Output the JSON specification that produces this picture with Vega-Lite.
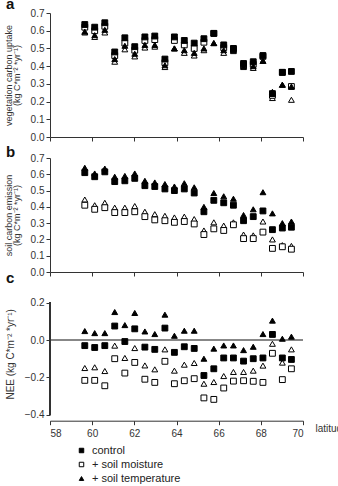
{
  "$schema": "https://vega.github.io/schema/vega-lite/v6.json",
  "padding": {"left": 4, "top": -3, "right": 0, "bottom": 0},
  "config": {
    "font": "Liberation Sans",
    "view": {"stroke": null},
    "axis": {"grid": false, "domainColor": "#333", "tickColor": "#333", "labelColor": "#333", "titleColor": "#333", "labelFontSize": 10, "tickSize": 4, "titleFontWeight": "normal", "titleFontSize": 9, "titleLineHeight": 8, "labelFont": "Liberation Sans", "titleFont": "Liberation Sans"},
    "title": {"font": "Liberation Sans", "fontSize": 15, "fontWeight": "bold", "color": "#111", "anchor": "start", "frame": "group"},
    "legend": {"orient": "none", "legendX": 26, "legendY": 432, "title": null, "labelFontSize": 11, "labelColor": "#222", "symbolSize": 20, "symbolStrokeColor": "black", "symbolStrokeWidth": 1, "rowPadding": 2, "labelOffset": 5}
  },
  "datasets": {
    "a": [
      {"lat":59.65,"s":"+ soil moisture and temperature","v":0.59},{"lat":59.65,"s":"+ soil moisture","v":0.62},{"lat":59.65,"s":"+ soil temperature","v":0.595},{"lat":59.65,"s":"control","v":0.635},
      {"lat":60.12,"s":"+ soil moisture and temperature","v":0.565},{"lat":60.12,"s":"+ soil moisture","v":0.6},{"lat":60.12,"s":"+ soil temperature","v":0.575},{"lat":60.12,"s":"control","v":0.62},
      {"lat":60.6,"s":"+ soil moisture and temperature","v":0.59},{"lat":60.6,"s":"+ soil moisture","v":0.625},{"lat":60.6,"s":"+ soil temperature","v":0.605},{"lat":60.6,"s":"control","v":0.645},
      {"lat":61.07,"s":"+ soil moisture and temperature","v":0.425},{"lat":61.07,"s":"+ soil moisture","v":0.46},{"lat":61.07,"s":"+ soil temperature","v":0.44},{"lat":61.07,"s":"control","v":0.48},
      {"lat":61.55,"s":"+ soil moisture and temperature","v":0.495},{"lat":61.55,"s":"+ soil moisture","v":0.53},{"lat":61.55,"s":"+ soil temperature","v":0.515},{"lat":61.55,"s":"control","v":0.56},
      {"lat":62.02,"s":"+ soil moisture and temperature","v":0.455},{"lat":62.02,"s":"+ soil moisture","v":0.49},{"lat":62.02,"s":"+ soil temperature","v":0.47},{"lat":62.02,"s":"control","v":0.51},
      {"lat":62.5,"s":"+ soil moisture and temperature","v":0.505},{"lat":62.5,"s":"+ soil moisture","v":0.545},{"lat":62.5,"s":"+ soil temperature","v":0.52},{"lat":62.5,"s":"control","v":0.565},
      {"lat":62.97,"s":"+ soil moisture and temperature","v":0.51},{"lat":62.97,"s":"+ soil moisture","v":0.55},{"lat":62.97,"s":"+ soil temperature","v":0.52},{"lat":62.97,"s":"control","v":0.57},
      {"lat":63.45,"s":"+ soil moisture and temperature","v":0.395},{"lat":63.45,"s":"+ soil moisture","v":0.42},{"lat":63.45,"s":"+ soil temperature","v":0.405},{"lat":63.45,"s":"control","v":0.44},
      {"lat":63.9,"s":"+ soil moisture and temperature","v":0.5},{"lat":63.9,"s":"+ soil moisture","v":0.545},{"lat":63.9,"s":"+ soil temperature","v":0.5},{"lat":63.9,"s":"control","v":0.565},
      {"lat":64.37,"s":"+ soil moisture and temperature","v":0.475},{"lat":64.37,"s":"+ soil moisture","v":0.52},{"lat":64.37,"s":"+ soil temperature","v":0.49},{"lat":64.37,"s":"control","v":0.545},
      {"lat":64.84,"s":"+ soil moisture and temperature","v":0.46},{"lat":64.84,"s":"+ soil moisture","v":0.5},{"lat":64.84,"s":"+ soil temperature","v":0.475},{"lat":64.84,"s":"control","v":0.53},
      {"lat":65.3,"s":"+ soil moisture and temperature","v":0.49},{"lat":65.3,"s":"+ soil moisture","v":0.535},{"lat":65.3,"s":"+ soil temperature","v":0.5},{"lat":65.3,"s":"control","v":0.555},
      {"lat":65.77,"s":"+ soil moisture and temperature","v":0.53},{"lat":65.77,"s":"+ soil moisture","v":0.585},{"lat":65.77,"s":"+ soil temperature","v":0.53},{"lat":65.77,"s":"control","v":0.585},
      {"lat":66.24,"s":"+ soil moisture and temperature","v":0.475},{"lat":66.24,"s":"+ soil moisture","v":0.505},{"lat":66.24,"s":"+ soil temperature","v":0.49},{"lat":66.24,"s":"control","v":0.52},
      {"lat":66.7,"s":"+ soil moisture and temperature","v":0.485},{"lat":66.7,"s":"+ soil moisture","v":0.495},{"lat":66.7,"s":"+ soil temperature","v":0.49},{"lat":66.7,"s":"control","v":0.5},
      {"lat":67.18,"s":"+ soil moisture and temperature","v":0.395},{"lat":67.18,"s":"+ soil moisture","v":0.405},{"lat":67.18,"s":"+ soil temperature","v":0.4},{"lat":67.18,"s":"control","v":0.415},
      {"lat":67.64,"s":"+ soil moisture and temperature","v":0.39},{"lat":67.64,"s":"+ soil moisture","v":0.41},{"lat":67.64,"s":"+ soil temperature","v":0.4},{"lat":67.64,"s":"control","v":0.425},
      {"lat":68.1,"s":"+ soil moisture and temperature","v":0.43},{"lat":68.1,"s":"+ soil moisture","v":0.455},{"lat":68.1,"s":"+ soil temperature","v":0.43},{"lat":68.1,"s":"control","v":0.46},
      {"lat":68.55,"s":"+ soil moisture and temperature","v":0.22},{"lat":68.55,"s":"+ soil moisture","v":0.235},{"lat":68.55,"s":"+ soil temperature","v":0.255},{"lat":68.55,"s":"control","v":0.245},
      {"lat":69.02,"s":"+ soil moisture and temperature","v":0.295},{"lat":69.02,"s":"+ soil moisture","v":0.365},{"lat":69.02,"s":"+ soil temperature","v":0.295},{"lat":69.02,"s":"control","v":0.365},
      {"lat":69.45,"s":"+ soil moisture and temperature","v":0.21},{"lat":69.45,"s":"+ soil moisture","v":0.285},{"lat":69.45,"s":"+ soil temperature","v":0.285},{"lat":69.45,"s":"control","v":0.37}
    ],
    "b": [
      {"lat":59.65,"s":"+ soil moisture and temperature","v":0.445},{"lat":59.65,"s":"+ soil moisture","v":0.41},{"lat":59.65,"s":"+ soil temperature","v":0.64},{"lat":59.65,"s":"control","v":0.61},
      {"lat":60.12,"s":"+ soil moisture and temperature","v":0.41},{"lat":60.12,"s":"+ soil moisture","v":0.385},{"lat":60.12,"s":"+ soil temperature","v":0.605},{"lat":60.12,"s":"control","v":0.585},
      {"lat":60.6,"s":"+ soil moisture and temperature","v":0.425},{"lat":60.6,"s":"+ soil moisture","v":0.395},{"lat":60.6,"s":"+ soil temperature","v":0.635},{"lat":60.6,"s":"control","v":0.615},
      {"lat":61.07,"s":"+ soil moisture and temperature","v":0.395},{"lat":61.07,"s":"+ soil moisture","v":0.365},{"lat":61.07,"s":"+ soil temperature","v":0.585},{"lat":61.07,"s":"control","v":0.555},
      {"lat":61.55,"s":"+ soil moisture and temperature","v":0.395},{"lat":61.55,"s":"+ soil moisture","v":0.365},{"lat":61.55,"s":"+ soil temperature","v":0.59},{"lat":61.55,"s":"control","v":0.56},
      {"lat":62.02,"s":"+ soil moisture and temperature","v":0.405},{"lat":62.02,"s":"+ soil moisture","v":0.37},{"lat":62.02,"s":"+ soil temperature","v":0.605},{"lat":62.02,"s":"control","v":0.575},
      {"lat":62.5,"s":"+ soil moisture and temperature","v":0.37},{"lat":62.5,"s":"+ soil moisture","v":0.34},{"lat":62.5,"s":"+ soil temperature","v":0.56},{"lat":62.5,"s":"control","v":0.53},
      {"lat":62.97,"s":"+ soil moisture and temperature","v":0.355},{"lat":62.97,"s":"+ soil moisture","v":0.32},{"lat":62.97,"s":"+ soil temperature","v":0.55},{"lat":62.97,"s":"control","v":0.525},
      {"lat":63.45,"s":"+ soil moisture and temperature","v":0.345},{"lat":63.45,"s":"+ soil moisture","v":0.315},{"lat":63.45,"s":"+ soil temperature","v":0.54},{"lat":63.45,"s":"control","v":0.51},
      {"lat":63.9,"s":"+ soil moisture and temperature","v":0.335},{"lat":63.9,"s":"+ soil moisture","v":0.305},{"lat":63.9,"s":"+ soil temperature","v":0.525},{"lat":63.9,"s":"control","v":0.5},
      {"lat":64.37,"s":"+ soil moisture and temperature","v":0.34},{"lat":64.37,"s":"+ soil moisture","v":0.31},{"lat":64.37,"s":"+ soil temperature","v":0.545},{"lat":64.37,"s":"control","v":0.51},
      {"lat":64.84,"s":"+ soil moisture and temperature","v":0.325},{"lat":64.84,"s":"+ soil moisture","v":0.295},{"lat":64.84,"s":"+ soil temperature","v":0.52},{"lat":64.84,"s":"control","v":0.485},
      {"lat":65.3,"s":"+ soil moisture and temperature","v":0.255},{"lat":65.3,"s":"+ soil moisture","v":0.23},{"lat":65.3,"s":"+ soil temperature","v":0.4},{"lat":65.3,"s":"control","v":0.37},
      {"lat":65.77,"s":"+ soil moisture and temperature","v":0.305},{"lat":65.77,"s":"+ soil moisture","v":0.265},{"lat":65.77,"s":"+ soil temperature","v":0.485},{"lat":65.77,"s":"control","v":0.44},
      {"lat":66.24,"s":"+ soil moisture and temperature","v":0.285},{"lat":66.24,"s":"+ soil moisture","v":0.255},{"lat":66.24,"s":"+ soil temperature","v":0.465},{"lat":66.24,"s":"control","v":0.425},
      {"lat":66.7,"s":"+ soil moisture and temperature","v":0.305},{"lat":66.7,"s":"+ soil moisture","v":0.29},{"lat":66.7,"s":"+ soil temperature","v":0.45},{"lat":66.7,"s":"control","v":0.41},
      {"lat":67.18,"s":"+ soil moisture and temperature","v":0.23},{"lat":67.18,"s":"+ soil moisture","v":0.205},{"lat":67.18,"s":"+ soil temperature","v":0.35},{"lat":67.18,"s":"control","v":0.315},
      {"lat":67.64,"s":"+ soil moisture and temperature","v":0.225},{"lat":67.64,"s":"+ soil moisture","v":0.205},{"lat":67.64,"s":"+ soil temperature","v":0.385},{"lat":67.64,"s":"control","v":0.34},
      {"lat":68.1,"s":"+ soil moisture and temperature","v":0.31},{"lat":68.1,"s":"+ soil moisture","v":0.245},{"lat":68.1,"s":"+ soil temperature","v":0.49},{"lat":68.1,"s":"control","v":0.375},
      {"lat":68.55,"s":"+ soil moisture and temperature","v":0.2},{"lat":68.55,"s":"+ soil moisture","v":0.145},{"lat":68.55,"s":"+ soil temperature","v":0.36},{"lat":68.55,"s":"control","v":0.26},
      {"lat":69.02,"s":"+ soil moisture and temperature","v":0.165},{"lat":69.02,"s":"+ soil moisture","v":0.155},{"lat":69.02,"s":"+ soil temperature","v":0.3},{"lat":69.02,"s":"control","v":0.27},
      {"lat":69.45,"s":"+ soil moisture and temperature","v":0.16},{"lat":69.45,"s":"+ soil moisture","v":0.14},{"lat":69.45,"s":"+ soil temperature","v":0.31},{"lat":69.45,"s":"control","v":0.275}
    ],
    "c": [
      {"lat":59.65,"s":"+ soil moisture and temperature","v":-0.15},{"lat":59.65,"s":"+ soil moisture","v":-0.216},{"lat":59.65,"s":"+ soil temperature","v":0.048},{"lat":59.65,"s":"control","v":-0.03},
      {"lat":60.12,"s":"+ soil moisture and temperature","v":-0.146},{"lat":60.12,"s":"+ soil moisture","v":-0.216},{"lat":60.12,"s":"+ soil temperature","v":0.037},{"lat":60.12,"s":"control","v":-0.04},
      {"lat":60.6,"s":"+ soil moisture and temperature","v":-0.166},{"lat":60.6,"s":"+ soil moisture","v":-0.245},{"lat":60.6,"s":"+ soil temperature","v":0.037},{"lat":60.6,"s":"control","v":-0.03},
      {"lat":61.07,"s":"+ soil moisture and temperature","v":-0.03},{"lat":61.07,"s":"+ soil moisture","v":-0.1},{"lat":61.07,"s":"+ soil temperature","v":0.15},{"lat":61.07,"s":"control","v":0.075},
      {"lat":61.55,"s":"+ soil moisture and temperature","v":-0.096},{"lat":61.55,"s":"+ soil moisture","v":-0.177},{"lat":61.55,"s":"+ soil temperature","v":0.08},{"lat":61.55,"s":"control","v":-0.008},
      {"lat":62.02,"s":"+ soil moisture and temperature","v":-0.043},{"lat":62.02,"s":"+ soil moisture","v":-0.12},{"lat":62.02,"s":"+ soil temperature","v":0.145},{"lat":62.02,"s":"control","v":0.06},
      {"lat":62.5,"s":"+ soil moisture and temperature","v":-0.136},{"lat":62.5,"s":"+ soil moisture","v":-0.21},{"lat":62.5,"s":"+ soil temperature","v":0.046},{"lat":62.5,"s":"control","v":-0.038},
      {"lat":62.97,"s":"+ soil moisture and temperature","v":-0.157},{"lat":62.97,"s":"+ soil moisture","v":-0.227},{"lat":62.97,"s":"+ soil temperature","v":0.032},{"lat":62.97,"s":"control","v":-0.05},
      {"lat":63.45,"s":"+ soil moisture and temperature","v":-0.05},{"lat":63.45,"s":"+ soil moisture","v":-0.114},{"lat":63.45,"s":"+ soil temperature","v":0.136},{"lat":63.45,"s":"control","v":0.064},
      {"lat":63.9,"s":"+ soil moisture and temperature","v":-0.164},{"lat":63.9,"s":"+ soil moisture","v":-0.234},{"lat":63.9,"s":"+ soil temperature","v":0.023},{"lat":63.9,"s":"control","v":-0.066},
      {"lat":64.37,"s":"+ soil moisture and temperature","v":-0.132},{"lat":64.37,"s":"+ soil moisture","v":-0.218},{"lat":64.37,"s":"+ soil temperature","v":0.05},{"lat":64.37,"s":"control","v":-0.036},
      {"lat":64.84,"s":"+ soil moisture and temperature","v":-0.123},{"lat":64.84,"s":"+ soil moisture","v":-0.207},{"lat":64.84,"s":"+ soil temperature","v":0.05},{"lat":64.84,"s":"control","v":-0.045},
      {"lat":65.3,"s":"+ soil moisture and temperature","v":-0.234},{"lat":65.3,"s":"+ soil moisture","v":-0.31},{"lat":65.3,"s":"+ soil temperature","v":-0.1},{"lat":65.3,"s":"control","v":-0.19},
      {"lat":65.77,"s":"+ soil moisture and temperature","v":-0.225},{"lat":65.77,"s":"+ soil moisture","v":-0.318},{"lat":65.77,"s":"+ soil temperature","v":-0.046},{"lat":65.77,"s":"control","v":-0.154},
      {"lat":66.24,"s":"+ soil moisture and temperature","v":-0.193},{"lat":66.24,"s":"+ soil moisture","v":-0.257},{"lat":66.24,"s":"+ soil temperature","v":-0.029},{"lat":66.24,"s":"control","v":-0.096},
      {"lat":66.7,"s":"+ soil moisture and temperature","v":-0.171},{"lat":66.7,"s":"+ soil moisture","v":-0.22},{"lat":66.7,"s":"+ soil temperature","v":-0.029},{"lat":66.7,"s":"control","v":-0.096},
      {"lat":67.18,"s":"+ soil moisture and temperature","v":-0.171},{"lat":67.18,"s":"+ soil moisture","v":-0.218},{"lat":67.18,"s":"+ soil temperature","v":-0.054},{"lat":67.18,"s":"control","v":-0.113},
      {"lat":67.64,"s":"+ soil moisture and temperature","v":-0.164},{"lat":67.64,"s":"+ soil moisture","v":-0.221},{"lat":67.64,"s":"+ soil temperature","v":-0.036},{"lat":67.64,"s":"control","v":-0.1},
      {"lat":68.1,"s":"+ soil moisture and temperature","v":-0.137},{"lat":68.1,"s":"+ soil moisture","v":-0.227},{"lat":68.1,"s":"+ soil temperature","v":0.032},{"lat":68.1,"s":"control","v":-0.096},
      {"lat":68.55,"s":"+ soil moisture and temperature","v":-0.02},{"lat":68.55,"s":"+ soil moisture","v":-0.071},{"lat":68.55,"s":"+ soil temperature","v":0.104},{"lat":68.55,"s":"control","v":0.03},
      {"lat":69.02,"s":"+ soil moisture and temperature","v":-0.121},{"lat":69.02,"s":"+ soil moisture","v":-0.212},{"lat":69.02,"s":"+ soil temperature","v":0.007},{"lat":69.02,"s":"control","v":-0.096},
      {"lat":69.45,"s":"+ soil moisture and temperature","v":-0.05},{"lat":69.45,"s":"+ soil moisture","v":-0.154},{"lat":69.45,"s":"+ soil temperature","v":0.018},{"lat":69.45,"s":"control","v":-0.104}
    ]
  },
  "bounds": "flush",
  "spacing": 21,
  "resolve": {"scale": {"y": "independent"}},
  "vconcat": [
    {
      "width": 253,
      "height": 124,
      "title": {"text": "a", "dy": 8, "dx": -44},
      "data": {"name": "a"},
      "mark": {"type": "point", "filled": true, "strokeWidth": 1, "size": 34, "opacity": 1},
      "encoding": {
        "x": {"field": "lat", "type": "quantitative", "scale": {"domain": [58, 70], "nice": false, "zero": false}, "axis": {"values": [58, 60, 62, 64, 66, 68, 70], "labels": false, "title": null}},
        "y": {"field": "v", "type": "quantitative", "scale": {"domain": [0, 0.7], "nice": false}, "axis": {"values": [0, 0.1, 0.2, 0.3, 0.4, 0.5, 0.6, 0.7], "format": ".1f", "title": ["vegetation carbon uptake", "(kg C*m⁻² *yr⁻¹)"], "titlePadding": 9}},
        "fill": {"field": "s", "type": "nominal", "scale": {"domain": ["control", "+ soil moisture", "+ soil temperature", "+ soil moisture and temperature"], "range": ["black", "white", "black", "white"]}},
        "stroke": {"field": "s", "type": "nominal", "scale": {"domain": ["control", "+ soil moisture", "+ soil temperature", "+ soil moisture and temperature"], "range": ["black", "black", "black", "black"]}},
        "shape": {"field": "s", "type": "nominal", "scale": {"domain": ["control", "+ soil moisture", "+ soil temperature", "+ soil moisture and temperature"], "range": ["square", "square", "triangle-up", "triangle-up"]}}
      }
    },
    {
      "width": 253,
      "height": 114,
      "title": {"text": "b", "dy": 11, "dx": -44},
      "data": {"name": "b"},
      "mark": {"type": "point", "filled": true, "strokeWidth": 1, "size": 34, "opacity": 1},
      "encoding": {
        "x": {"field": "lat", "type": "quantitative", "scale": {"domain": [58, 70], "nice": false, "zero": false}, "axis": {"values": [58, 60, 62, 64, 66, 68, 70], "labels": false, "title": null}},
        "y": {"field": "v", "type": "quantitative", "scale": {"domain": [0, 0.7], "nice": false}, "axis": {"values": [0, 0.1, 0.2, 0.3, 0.4, 0.5, 0.6, 0.7], "format": ".1f", "title": ["soil carbon emission", "(kg C*m⁻² *yr⁻¹)"], "titlePadding": 9}},
        "fill": {"field": "s", "type": "nominal", "scale": {"domain": ["control", "+ soil moisture", "+ soil temperature", "+ soil moisture and temperature"], "range": ["black", "white", "black", "white"]}},
        "stroke": {"field": "s", "type": "nominal", "scale": {"domain": ["control", "+ soil moisture", "+ soil temperature", "+ soil moisture and temperature"], "range": ["black", "black", "black", "black"]}},
        "shape": {"field": "s", "type": "nominal", "scale": {"domain": ["control", "+ soil moisture", "+ soil temperature", "+ soil moisture and temperature"], "range": ["square", "square", "triangle-up", "triangle-up"]}}
      }
    },
    {
      "width": 253,
      "height": 121.7,
      "title": {"text": "c", "dy": -3, "dx": -44},
      "data": {"name": "c"},
      "layer": [
        {
          "mark": {"type": "rule", "color": "#888", "strokeWidth": 1},
          "encoding": {"y": {"datum": 0}}
        },
        {
          "mark": {"type": "rule", "color": "#333", "strokeWidth": 1},
          "encoding": {"x": {"datum": 58}, "y": {"datum": -0.4}, "y2": {"datum": 0.2}}
        },
        {
          "mark": {"type": "point", "filled": true, "strokeWidth": 1, "size": 34, "opacity": 1},
          "encoding": {
            "x": {"field": "lat", "type": "quantitative", "scale": {"domain": [58, 70], "nice": false, "zero": false}, "axis": {"values": [58, 60, 62, 64, 66, 68, 70], "offset": 6, "labelPadding": 4, "title": "latitude", "titleFontSize": 10, "titleX": 265, "titleY": 8, "titleAlign": "left", "titleBaseline": "middle"}},
            "y": {"field": "v", "type": "quantitative", "scale": {"domain": [-0.4, 0.252], "nice": false}, "axis": {"values": [-0.4, -0.3, -0.2, -0.1, 0, 0.1, 0.2], "format": ".1f", "domain": false, "title": "NEE  (kg C*m⁻² *yr⁻¹)", "titleFontSize": 10, "titlePadding": 9}},
            "fill": {"field": "s", "type": "nominal", "scale": {"domain": ["control", "+ soil moisture", "+ soil temperature", "+ soil moisture and temperature"], "range": ["black", "white", "black", "white"]}},
            "stroke": {"field": "s", "type": "nominal", "scale": {"domain": ["control", "+ soil moisture", "+ soil temperature", "+ soil moisture and temperature"], "range": ["black", "black", "black", "black"]}},
            "shape": {"field": "s", "type": "nominal", "scale": {"domain": ["control", "+ soil moisture", "+ soil temperature", "+ soil moisture and temperature"], "range": ["square", "square", "triangle-up", "triangle-up"]}}
          }
        }
      ]
    }
  ]
}
